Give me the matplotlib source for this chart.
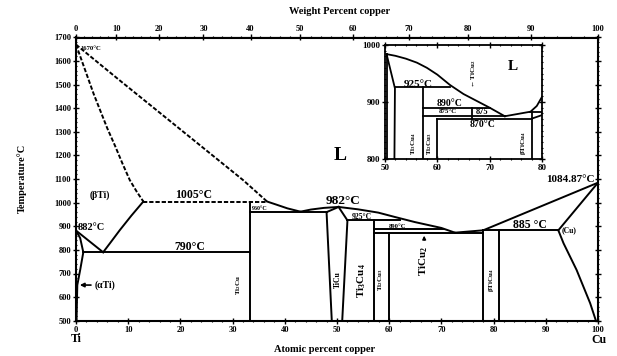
import numpy as np
import matplotlib
matplotlib.use("Agg")
import matplotlib.pyplot as plt
from matplotlib.ticker import MultipleLocator

plt.rcParams['font.family'] = ['Liberation Serif', 'DejaVu Serif']
plt.rcParams['font.weight'] = 'bold'
plt.rcParams['mathtext.fontset'] = 'custom'
plt.rcParams['mathtext.rm'] = 'Liberation Serif:bold'
plt.rcParams['mathtext.it'] = 'Liberation Serif:bold'
plt.rcParams['mathtext.bf'] = 'Liberation Serif:bold'

# ---------------- data (atomic % Cu, temperature °C) ----------------
liq_ti_dash_x = [0, 8, 16, 24, 32, 36.6]
liq_ti_dash_t = [1670, 1525, 1382, 1239, 1096, 1005]
sol_beta_x = [0, 1.2, 2.3, 3.4, 4.6, 6.0, 7.5, 8.9, 10.3, 11.6, 12.9]
sol_beta_t = [1670, 1596, 1528, 1460, 1393, 1315, 1240, 1166, 1096, 1048, 1005]
peri_1005_x = [12.9, 36.6]
peri_1005_t = [1005, 1005]
liq_eut_x = [36.6, 38.5, 40.5, 43]
liq_eut_t = [1005, 991, 976, 962]
liq_ticu_x = [43, 45, 47.5, 50.3]
liq_ticu_t = [962, 971, 978, 982]
liq_right_x = [50.3, 54, 57.9, 61, 64.9, 70, 72.6]
liq_right_t = [982, 972, 958, 940, 918, 893, 873]
liq_cu_x = [72.6, 78, 100]
liq_cu_t = [873, 883, 1084.87]
beta_transus_x = [0, 5.2]
beta_transus_t = [882, 790]
beta_solvus_x = [5.2, 6.5, 8.4, 10.6, 12.9]
beta_solvus_t = [790, 828, 884, 945, 1005]
alpha_x = [0, 0.8, 1.4, 0.8, 0.25, 0.1]
alpha_t = [882, 850, 790, 715, 651, 500]
eut_790_x = [1.4, 33.3]
eut_790_t = [790, 790]
ti2cu_x = [33.3, 33.3]
ti2cu_t = [1005, 500]
eut_960_x = [33.3, 48]
eut_960_t = [960, 960]
ticu_left_x = [50.3, 48, 49]
ticu_left_t = [982, 960, 500]
ticu_right_x = [50.3, 52, 51]
ticu_right_t = [982, 925, 500]
peri_925_x = [52, 62]
peri_925_t = [925, 925]
ti3cu4_x = [57.1, 57.1]
ti3cu4_t = [925, 500]
peri_890_x = [57.1, 70.3]
peri_890_t = [888, 888]
eut_873_x = [57.1, 78]
eut_873_t = [873, 873]
ti2cu3_x = [60, 60]
ti2cu3_t = [873, 500]
eut_885_x = [78, 92.4]
eut_885_t = [883, 883]
ticu4_l_x = [78, 78]
ticu4_l_t = [883, 500]
ticu4_r_x = [81, 81]
ticu4_r_t = [883, 500]
cu_solidus_x = [92.4, 100]
cu_solidus_t = [883, 1084.87]
cu_solvus_x = [92.4, 93.4, 95.9, 98.5, 99.6]
cu_solvus_t = [883, 828, 715, 574, 500]

# inset data
in_left_x = [50.4, 50.4]
in_left_t = [984, 800]
in_ticu_r_x = [50.3, 51.9, 51.8]
in_ticu_r_t = [984, 924, 800]
in_liq_x = [50.3, 52, 54, 56.1, 58, 60, 62.4, 65, 67.5, 70, 72.9]
in_liq_t = [984, 981, 976, 969, 960, 948, 930, 914, 902, 890, 875]
in_liq_cu_x = [72.9, 77.8, 79, 80]
in_liq_cu_t = [875, 883, 893, 909]
in_925_x = [51.9, 62.4]
in_925_t = [926, 926]
in_ti3cu4_x = [57.3, 57.3]
in_ti3cu4_t = [926, 800]
in_890_x = [57.3, 70]
in_890_t = [889, 889]
in_875_x = [57.3, 72.9]
in_875_t = [876, 876]
in_870_x = [59.9, 78.1]
in_870_t = [870, 870]
in_ti2cu3_x = [59.9, 59.9]
in_ti2cu3_t = [870, 800]
in_ticu2_x = [66.6, 66.6]
in_ticu2_t = [889, 870]
in_ticu4_x = [78.1, 78.1]
in_ticu4_t = [883, 800]
in_883_x = [77.8, 80]
in_883_t = [883, 883]
in_slant_x = [78.1, 80]
in_slant_t = [871, 877]

main_xticks = list(range(0, 101, 10))
main_yticks = list(range(500, 1701, 100))
wt_ticks = list(range(0, 101, 10))
inset_xticks = [50, 60, 70, 80]
inset_yticks = [800, 900, 1000]

# ---------------- helpers ----------------
M_CU, M_TI = 63.546, 47.867


def at2wt(a):
    a = np.asarray(a, dtype=float)
    with np.errstate(divide='ignore', invalid='ignore'):
        return a * M_CU / (a * M_CU + (100 - a) * M_TI) * 100


def wt2at(w):
    w = np.asarray(w, dtype=float)
    with np.errstate(divide='ignore', invalid='ignore'):
        return (w / M_CU) / (w / M_CU + (100 - w) / M_TI) * 100


fig = plt.figure(figsize=(6.17, 3.56), dpi=100)
ax = fig.add_axes([76 / 617, 1 - 320.7 / 356, 522 / 617, 283.2 / 356])
LW = 1.4
K = 'black'

for x, t in [(liq_ti_dash_x, liq_ti_dash_t), (sol_beta_x, sol_beta_t), (peri_1005_x, peri_1005_t)]:
    ax.plot(x, t, color=K, lw=LW, ls=(0, (2.2, 1.0)))
for x, t in [(liq_eut_x, liq_eut_t), (liq_ticu_x, liq_ticu_t), (liq_right_x, liq_right_t),
             (liq_cu_x, liq_cu_t), (beta_transus_x, beta_transus_t), (beta_solvus_x, beta_solvus_t),
             (alpha_x, alpha_t), (eut_790_x, eut_790_t), (ti2cu_x, ti2cu_t), (eut_960_x, eut_960_t),
             (ticu_left_x, ticu_left_t), (ticu_right_x, ticu_right_t), (peri_925_x, peri_925_t),
             (ti3cu4_x, ti3cu4_t), (peri_890_x, peri_890_t), (eut_873_x, eut_873_t),
             (ti2cu3_x, ti2cu3_t), (eut_885_x, eut_885_t), (ticu4_l_x, ticu4_l_t),
             (ticu4_r_x, ticu4_r_t), (cu_solidus_x, cu_solidus_t), (cu_solvus_x, cu_solvus_t)]:
    ax.plot(x, t, color=K, lw=LW, solid_joinstyle='round')

ax.set_xlim(0, 100)
ax.set_ylim(500, 1700)
ax.set_xticks(main_xticks)
ax.set_yticks(main_yticks)
ax.xaxis.set_minor_locator(MultipleLocator(2))
ax.yaxis.set_minor_locator(MultipleLocator(20))
ax.tick_params(which='major', direction='inout', length=4, width=1, labelsize=6, pad=1.5)
ax.tick_params(which='minor', direction='inout', length=2, width=0.8)
ax.tick_params(axis='y', which='both', right=True)
ax.tick_params(axis='y', which='major', right=True, labelright=False)
for s in ax.spines.values():
    s.set_linewidth(1.5)
for lab in ax.get_xticklabels() + ax.get_yticklabels():
    lab.set_fontweight('bold')

sec = ax.secondary_xaxis('top', functions=(at2wt, wt2at))
sec.set_xticks(wt_ticks)
sec.xaxis.set_minor_locator(MultipleLocator(2))
sec.tick_params(which='major', direction='inout', length=4, width=1, labelsize=6, pad=1)
sec.tick_params(which='minor', direction='inout', length=2, width=0.8)
for lab in sec.get_xticklabels():
    lab.set_fontweight('bold')


def txt(a, x, y, s, fs, ha='center', va='center', rot=0):
    a.text(x, y, s, fontsize=fs, ha=ha, va=va, rotation=rot, fontweight='bold')


txt(ax, 0.8, 1655, '1670°C', 4.8, ha='left')
txt(ax, 4.6, 1033, '(βTi)', 7)
txt(ax, 0.4, 895, '882°C', 7.5, ha='left')
txt(ax, 22.5, 1033, '1005°C', 8.5)
txt(ax, 21.8, 813, '790°C', 8.5)
txt(ax, 3.5, 651, '(αTi)', 7, ha='left')
ax.annotate('', xy=(0.2, 651), xytext=(3.4, 651),
            arrowprops=dict(arrowstyle='-|>', color=K, lw=1.2, mutation_scale=6))
txt(ax, 31.2, 651, 'Ti$_2$Cu', 5, rot=90)
txt(ax, 33.6, 976, '960°C', 4.3, ha='left')
txt(ax, 50.6, 1200, 'L', 14)
txt(ax, 51.1, 1008, '982°C', 9.5)
txt(ax, 54.8, 939, '925°C', 5.5)
txt(ax, 61.5, 901, '890°C', 4.8)
txt(ax, 87, 905, '885 °C', 8.5)
txt(ax, 94.4, 884, '(Cu)', 5.5)
txt(ax, 99.4, 1098, '1084.87°C', 8, ha='right')
txt(ax, 50.1, 672, 'TiCu', 5.5, rot=90)
txt(ax, 54.7, 672, 'Ti$_3$Cu$_4$', 8, rot=90)
txt(ax, 58.3, 672, 'Ti$_2$Cu$_3$', 5, rot=90)
txt(ax, 66.7, 755, 'TiCu$_2$', 8, rot=90)
ax.annotate('', xy=(66.7, 872), xytext=(66.7, 830),
            arrowprops=dict(arrowstyle='-|>', color=K, lw=1.0, mutation_scale=5))
txt(ax, 79.6, 672, 'βTiCu$_4$', 5, rot=90)

fig.text(340 / 617, 1 - 12 / 356, 'Weight Percent copper', fontsize=7.5, ha='center', va='center', fontweight='bold')
fig.text(325 / 617, 1 - 350 / 356, 'Atomic percent copper', fontsize=7.5, ha='center', va='center', fontweight='bold')
fig.text(76 / 617, 1 - 339 / 356, 'Ti', fontsize=8.5, ha='center', va='center', fontweight='bold')
fig.text(599 / 617, 1 - 340 / 356, 'Cu', fontsize=8.5, ha='center', va='center', fontweight='bold')
fig.text(22 / 617, 1 - 178 / 356, 'Temperature°C', fontsize=7.5, ha='center', va='center', rotation=90, fontweight='bold')

# ---------------- inset ----------------
ia = fig.add_axes([385 / 617, 1 - 159 / 356, 157 / 617, 114 / 356])
ia.set_facecolor('white')
ILW = 1.3
for x, t in [(in_left_x, in_left_t), (in_ticu_r_x, in_ticu_r_t), (in_liq_x, in_liq_t),
             (in_liq_cu_x, in_liq_cu_t), (in_925_x, in_925_t), (in_ti3cu4_x, in_ti3cu4_t),
             (in_890_x, in_890_t), (in_875_x, in_875_t), (in_870_x, in_870_t),
             (in_ti2cu3_x, in_ti2cu3_t), (in_ticu2_x, in_ticu2_t), (in_ticu4_x, in_ticu4_t),
             (in_883_x, in_883_t), (in_slant_x, in_slant_t)]:
    ia.plot(x, t, color=K, lw=ILW, solid_joinstyle='round')
ia.set_xlim(50, 80)
ia.set_ylim(800, 1000)
ia.set_xticks(inset_xticks)
ia.set_yticks(inset_yticks)
ia.xaxis.set_minor_locator(MultipleLocator(2))
ia.yaxis.set_minor_locator(MultipleLocator(10))
ia.tick_params(which='major', direction='inout', length=4, width=1, labelsize=6.5, pad=1.5,
               top=True, right=True)
ia.tick_params(which='minor', direction='inout', length=2, width=0.8, top=True, right=True)
for s in ia.spines.values():
    s.set_linewidth(1.3)
for lab in ia.get_xticklabels() + ia.get_yticklabels():
    lab.set_fontweight('bold')

txt(ia, 56.4, 931, '925°C', 8)
txt(ia, 62.4, 897, '890°C', 7)
txt(ia, 62.0, 882.5, '875°C', 5)
txt(ia, 68.6, 882, '875', 6)
txt(ia, 68.6, 860, '870°C', 7)
txt(ia, 74.5, 962, 'L', 11)
txt(ia, 66.9, 950, '← TiCu$_2$', 5, rot=90)
txt(ia, 55.4, 827, 'Ti$_3$Cu$_4$', 5, rot=90)
txt(ia, 58.6, 827, 'Ti$_2$Cu$_3$', 5, rot=90)
txt(ia, 76.5, 827, 'βTiCu$_4$', 5, rot=90)

fig.savefig('out.png', dpi=100, facecolor='white')
